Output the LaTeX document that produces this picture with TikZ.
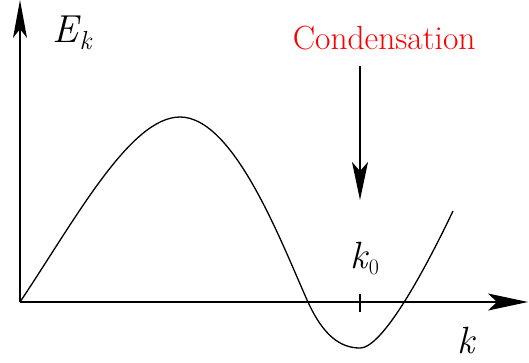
\documentclass[tikz,border=0pt]{standalone}
\usepackage{fontspec}
\usetikzlibrary{arrows.meta}
\begin{document}
\begin{tikzpicture}[x=1pt,y=-1pt,line width=1.5pt,
  lbl/.style={inner sep=0pt,anchor=base west}]
\useasboundingbox (0,0) rectangle (529,362);
\coordinate (O) at (20,302);
\coordinate (Ytop) at (20,0);
\coordinate (Xend) at (528,302);
\draw[-{Stealth[length=38pt,width=14pt,inset=9pt]}] (O) -- (Ytop);
\draw[-{Stealth[length=40pt,width=17pt,inset=9pt]}] (O) -- (Xend);
\coordinate (t1) at (360,294);
\coordinate (t2) at (360,312);
\draw[line width=1.2pt] (t1) -- (t2);
\coordinate (peak) at (180,117);
\coordinate (c1) at (308,302);
\coordinate (mn) at (360,348);
\coordinate (endc) at (453,211);
\draw[line width=1.3pt] (O) .. controls (75,220) and (130,117) .. (peak)
  .. controls (235,117) and (283,247) .. (c1)
  .. controls (323,335) and (340,348) .. (mn)
  .. controls (385,348) and (433,253) .. (endc);
\coordinate (a1) at (360,66);
\coordinate (a2) at (360,200);
\draw[-{Stealth[length=38pt,width=16pt,inset=9pt]}] (a1) -- (a2);
\node[lbl] (Ek) at (52,42) {\fontsize{39}{39}\selectfont\itshape E\kern1pt\raisebox{-7pt}{\fontsize{26}{26}\selectfont k}};
\node[lbl] (k0) at (350,268) {\fontsize{38}{38}\selectfont\itshape k\kern1pt\raisebox{-6pt}{\fontsize{22}{22}\selectfont\upshape 0}};
\node[lbl] (k) at (457,353) {\fontsize{38}{38}\selectfont\itshape k};
\node[lbl,text=red] (cond) at (292,49) {\fontsize{33.5}{33.5}\selectfont Condensation};
\end{tikzpicture}
\end{document}
